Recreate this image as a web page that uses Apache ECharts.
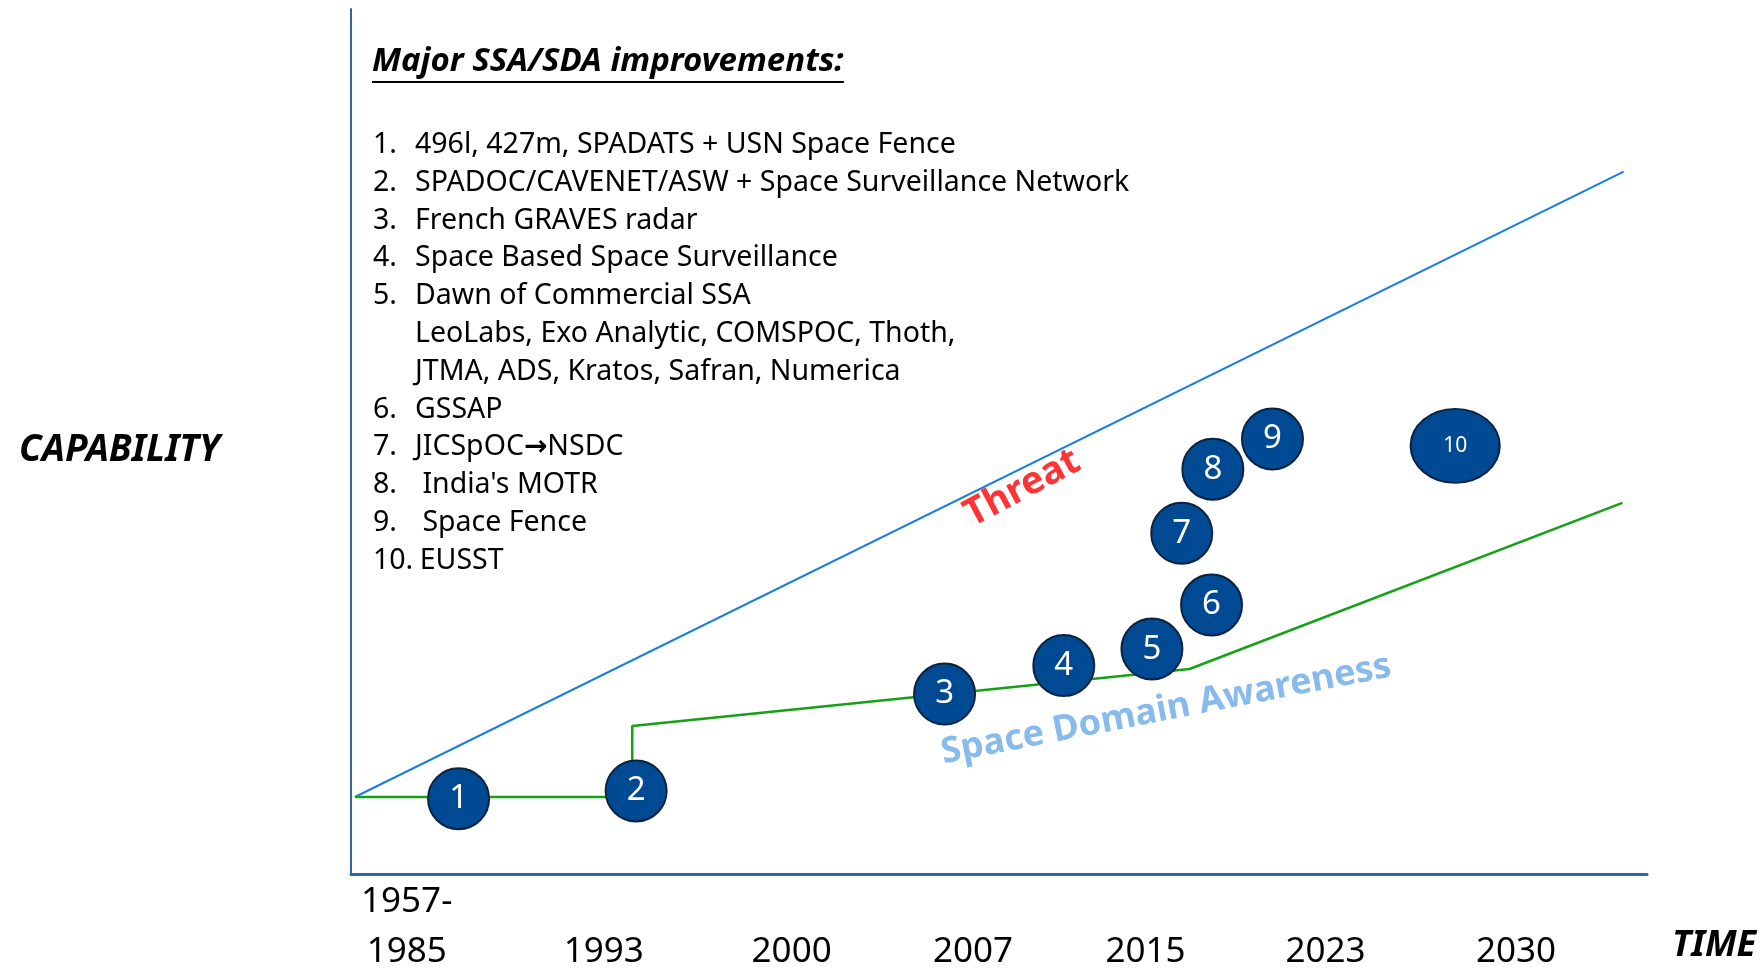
<!DOCTYPE html>
<html>
<head>
<meta charset="utf-8">
<script src="https://cdn.jsdelivr.net/npm/echarts@6/dist/echarts.min.js"></script>
<style>
  html, body { margin: 0; padding: 0; background: #fff; }
  #main { width: 1763px; height: 968px; }
</style>
</head>
<body>
<div id="main"></div>
<script>
// x is a 0-100 "time position" scale, y a 0-100 "capability" scale
const tickLabels = ['1957-\n1985', '1993', '2000', '2007', '2015', '2023', '2030'];
const tickPos = [4.3, 19.5, 34.0, 48.0, 61.3, 75.2, 89.9];

const threatX = [0.3, 98.2];
const threatY = [8.9, 81.2];

const sdaX = [0.3, 21.7, 21.7, 64.7, 98.1];
const sdaY = [8.9, 8.9, 17.1, 23.7, 42.9];

const milestoneNum = ['1', '2', '3', '4', '5', '6', '7', '8', '9', '10'];
const milestoneX = [8.3, 22.0, 45.8, 55.0, 61.8, 66.4, 64.1, 66.5, 71.1, 85.2];
const milestoneY = [8.7, 9.6, 20.8, 24.1, 26.0, 31.1, 39.4, 46.8, 50.3, 49.5];

const annotText = ['Threat', 'Space Domain Awareness'];
const annotX = [51.8, 62.9];
const annotY = [44.6, 19.0];

const listTitle = 'Major SSA/SDA improvements:';
const listNums = ['1.', '2.', '3.', '4.', '5.', '', '', '6.', '7.', '8.', '9.', '10.'];
const listItems = [
  '496l, 427m, SPADATS + USN Space Fence',
  'SPADOC/CAVENET/ASW + Space Surveillance Network',
  'French GRAVES radar',
  'Space Based Space Surveillance',
  'Dawn of Commercial SSA',
  'LeoLabs, Exo Analytic, COMSPOC, Thoth,',
  'JTMA, ADS, Kratos, Safran, Numerica',
  'GSSAP',
  'JICSpOC{arr|\u2192}NSDC',
  " India's MOTR",
  ' Space Fence',
  '\u2009EUSST'
];
const yAxisName = 'CAPABILITY';
const xAxisName = 'TIME';

const FONT = '"Noto Sans", sans-serif';
const AXIS_COLOR = '#2c66ad';

var chartDom = document.getElementById('main');
var myChart = echarts.init(chartDom);

// width of the title, for the underline
var ctx = document.createElement('canvas').getContext('2d');
ctx.font = 'italic bold 33px "Noto Sans"';
var titleW = ctx.measureText(listTitle).width;

var zip = (xs, ys) => xs.map((x, i) => [x, ys[i]]);

var option = {
  animation: false,
  backgroundColor: '#fff',
  grid: { left: 351, right: 116, top: 9, bottom: 94, outerBoundsMode: 'none', containLabel: false },
  xAxis: {
    type: 'value',
    min: 0,
    max: 100,
    axisLine: { show: true, lineStyle: { color: AXIS_COLOR, width: 3 } },
    axisTick: { show: false },
    splitLine: { show: false },
    axisLabel: {
      customValues: tickPos,
      margin: 3,
      fontFamily: FONT,
      fontSize: 35,
      lineHeight: 50,
      color: '#000',
      formatter: function (v) {
        var i = tickPos.indexOf(v);
        var t = tickLabels[i];
        return t.indexOf('\n') >= 0 ? t : '\n' + t;
      }
    }
  },
  yAxis: {
    type: 'value',
    min: 0,
    max: 100,
    axisLine: { show: true, lineStyle: { color: AXIS_COLOR, width: 2 } },
    axisTick: { show: false },
    axisLabel: { show: false },
    splitLine: { show: false }
  },
  graphic: [
    {
      type: 'text', left: 372, top: 45,
      style: { text: listTitle, font: 'italic bold 33px ' + FONT, fill: '#000' }
    },
    {
      type: 'line',
      shape: { x1: 372, y1: 82, x2: 372 + titleW, y2: 82 },
      style: { stroke: '#000', lineWidth: 2 }
    },
    {
      type: 'text', left: 373, top: 126,
      style: { text: listNums.join('\n'), font: '28.5px ' + FONT, lineHeight: 37.8, fill: '#000' }
    },
    {
      type: 'text', left: 415, top: 126,
      style: {
        text: listItems.join('\n'),
        font: '28.5px ' + FONT,
        lineHeight: 37.8,
        fill: '#000',
        rich: { arr: { fontFamily: '"DejaVu Sans"', fontWeight: 'bold', fontSize: 28, lineHeight: 37.8 } }
      }
    },
    {
      type: 'text', left: 19, top: 432,
      style: { text: yAxisName, font: 'italic bold 37px ' + FONT, fill: '#000' }
    },
    {
      type: 'text', left: 1672, top: 928,
      style: { text: xAxisName, font: 'italic bold 36px ' + FONT, fill: '#000' }
    }
  ],
  series: [
    {
      name: 'Threat',
      type: 'line',
      data: zip(threatX, threatY),
      symbol: 'none',
      lineStyle: { color: '#1a7ee0', width: 2 },
      z: 2
    },
    {
      name: 'Space Domain Awareness',
      type: 'line',
      data: zip(sdaX, sdaY),
      symbol: 'none',
      lineStyle: { color: '#16a016', width: 2.5 },
      z: 2
    },
    {
      name: 'Milestones',
      type: 'scatter',
      data: milestoneNum.map((n, i) => ({ name: n, value: [milestoneX[i], milestoneY[i]] })),
      symbol: 'circle',
      symbolSize: function (val, p) { return p.dataIndex === 9 ? [89, 74] : 61; },
      itemStyle: { color: '#004a93', borderColor: '#0c2340', borderWidth: 2, opacity: 1 },
      label: {
        show: true,
        position: 'inside',
        formatter: '{b}',
        color: '#fff',
        fontFamily: FONT,
        fontSize: 33
      },
      labelLayout: function (p) {
        return p.dataIndex === 9 ? { fontSize: 21 } : {};
      },
      z: 5
    },
    {
      name: 'Annotations',
      type: 'scatter',
      data: annotText.map((t, i) => ({ name: t, value: [annotX[i], annotY[i]] })),
      symbolSize: 0,
      label: {
        show: true,
        position: 'inside',
        formatter: '{b}',
        fontFamily: FONT,
        fontWeight: 'bold',
        fontSize: 36
      },
      z: 4
    }
  ]
};

// per-annotation styling
option.series[3].data[0].label = { color: '#ff0000', rotate: 28, fontSize: 38 };
option.series[3].data[1].label = { color: '#6aaae6', rotate: 11, fontSize: 36 };

option && myChart.setOption(option);
</script>
</body>
</html>
